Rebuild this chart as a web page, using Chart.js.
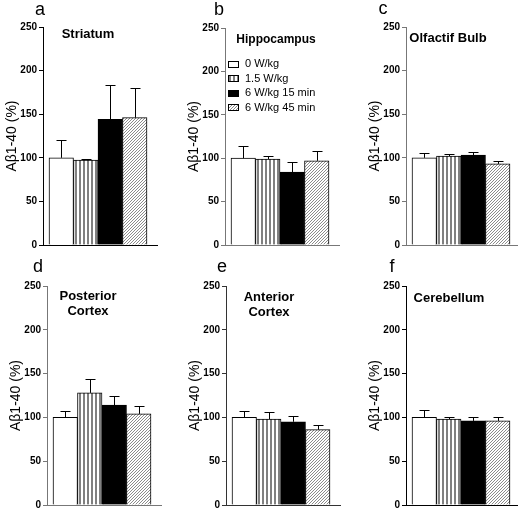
<!DOCTYPE html>
<html>
<head>
<meta charset="utf-8">
<script src="https://cdn.jsdelivr.net/npm/chart.js@4.4.1/dist/chart.umd.min.js"></script>
<style>
html,body{margin:0;padding:0;background:#fff;overflow:hidden}
#wrap{position:relative;width:518px;height:512px;overflow:hidden}
#wrap canvas{position:absolute}
</style>
</head>
<body>
<div id="wrap"></div>
<script>
// ---- data ----
const groups = ['0 W/kg', '1.5 W/kg', '6 W/kg 15 min', '6 W/kg 45 min'];
const panelLetters = ['a', 'b', 'c', 'd', 'e', 'f'];
const regionNames = [['Striatum'], ['Hippocampus'], ['Olfactif Bulb'], ['Posterior', 'Cortex'], ['Anterior', 'Cortex'], ['Cerebellum']];
const yTicks = [0, 50, 100, 150, 200, 250];
const yTitle = 'Aβ1-40 (%)';

const striatumMean = [100, 97.5, 144, 146];
const striatumSem = [20, 1.5, 40, 34];
const hippocampusMean = [100, 99, 84, 97];
const hippocampusSem = [14, 3, 12, 11];
const bulbMean = [100, 102, 103, 93];
const bulbSem = [5, 2, 4, 3];
const postCortexMean = [100, 128, 114, 104];
const postCortexSem = [7, 16, 10, 9];
const antCortexMean = [100, 98, 95, 86];
const antCortexSem = [7, 8, 7, 5];
const cerebellumMean = [100, 98, 96, 96];
const cerebellumSem = [8, 2, 5, 4];

const means = [striatumMean, hippocampusMean, bulbMean, postCortexMean, antCortexMean, cerebellumMean];
const sems = [striatumSem, hippocampusSem, bulbSem, postCortexSem, antCortexSem, cerebellumSem];

// ---- layout (page pixels) ----
const FONT = "'Liberation Sans', Arial, sans-serif";
const BAR_W = 24.5, GAP = 6, AXIS_SPACE = 44, CANVAS_W = 159, ROW_H = 256;
const panels = [
  {axisX: 43,  row: 0,   yTop: 27,  yBot: 245, color: '#000', letter: [40, 15],   title: [88, 38],  titleSize: 13},
  {axisX: 225, row: 0,   yTop: 28,  yBot: 245, color: '#777', letter: [219, 15],  title: [276, 43], titleSize: 12, legend: true},
  {axisX: 406, row: 0,   yTop: 27,  yBot: 245, color: '#777', letter: [383, 14],  title: [448, 42], titleSize: 13},
  {axisX: 47,  row: 256, yTop: 286, yBot: 507, color: '#777', letter: [38, 272],  title: [88, 300], titleSize: 13},
  {axisX: 226, row: 256, yTop: 286, yBot: 506, color: '#333', letter: [222, 272], title: [269, 301], titleSize: 13},
  {axisX: 406, row: 256, yTop: 286, yBot: 506, color: '#000', letter: [392, 272], title: [449, 302], titleSize: 13}
];

// ---- fills ----
function makePattern(w, h, draw){
  const c = document.createElement('canvas');
  c.width = w; c.height = h;
  const g = c.getContext('2d');
  g.fillStyle = '#fff'; g.fillRect(0, 0, w, h);
  draw(g);
  return g.createPattern(c, 'repeat');
}
const stripes = makePattern(4, 4, g => { g.fillStyle = '#808080'; g.fillRect(0, 0, 2, 4); });
const hatch = makePattern(3, 3, g => {
  g.fillStyle = '#8c8c8c';
  g.fillRect(2, 0, 1, 1); g.fillRect(1, 1, 1, 1); g.fillRect(0, 2, 1, 1);
});
const fills = ['#fff', stripes, '#000', hatch];

// ---- plugin: error bars, labels, legend ----
const panelPlugin = {
  id: 'panelDeco',
  afterDatasetsDraw(chart){
    const {ctx} = chart;
    const p = chart.options.plugins.panelDeco;
    const xs = chart.scales.x, ys = chart.scales.y;
    ctx.save();
    ctx.strokeStyle = '#000';
    ctx.lineWidth = 1;
    p.mean.forEach((m, i) => {
      const x = Math.round(xs.getPixelForValue(i)) + 0.5;
      const y1 = ys.getPixelForValue(m);
      const y2 = Math.round(ys.getPixelForValue(m + p.sem[i])) + 0.5;
      ctx.beginPath();
      ctx.moveTo(x, y1); ctx.lineTo(x, y2);
      ctx.moveTo(x - 5, y2); ctx.lineTo(x + 5, y2);
      ctx.stroke();
    });
    ctx.restore();
  },
  afterDraw(chart){
    const {ctx} = chart;
    const p = chart.options.plugins.panelDeco;
    const ox = p.left, oy = p.top;
    ctx.save();
    ctx.fillStyle = '#000';
    ctx.textAlign = 'center';
    ctx.textBaseline = 'alphabetic';
    ctx.font = '18px ' + FONT;
    ctx.fillText(p.letter, p.letterPos[0] - ox, p.letterPos[1] - oy);
    ctx.font = 'bold ' + p.titleSize + 'px ' + FONT;
    p.name.forEach((line, k) => ctx.fillText(line, p.titlePos[0] - ox, p.titlePos[1] - oy + k * 15));
    if (p.legend){
      ctx.textAlign = 'left';
      ctx.textBaseline = 'middle';
      ctx.font = '11px ' + FONT;
      chart.data.datasets.forEach((ds, i) => {
        const cy = 64 + i * 14.5 - oy;
        const bx = 228 - ox;
        ctx.fillStyle = ds.backgroundColor;
        ctx.fillRect(bx, Math.round(cy - 3.5), 11, 7);
        ctx.strokeStyle = '#000';
        ctx.strokeRect(bx + 0.5, Math.round(cy - 3.5) + 0.5, 10, 6);
        ctx.fillStyle = '#000';
        ctx.fillText(ds.label, 245 - ox, cy);
      });
    }
    ctx.restore();
  }
};

// ---- build charts ----
const wrap = document.getElementById('wrap');
panels.forEach((p, k) => {
  const left = p.axisX - AXIS_SPACE;
  const width = Math.min(CANVAS_W, 518 - left);
  const plotW = width - AXIS_SPACE;
  const xMin = -0.5 - GAP / BAR_W;
  const xMax = xMin + plotW / BAR_W;

  const cv = document.createElement('canvas');
  cv.width = width; cv.height = ROW_H;
  cv.style.left = left + 'px'; cv.style.top = p.row + 'px';
  cv.style.width = width + 'px'; cv.style.height = ROW_H + 'px';
  wrap.appendChild(cv);

  new Chart(cv.getContext('2d'), {
    type: 'bar',
    data: {
      datasets: groups.map((g, i) => ({
        label: g,
        data: [{x: i, y: means[k][i]}],
        backgroundColor: fills[i],
        borderColor: '#000',
        borderWidth: 1,
        grouped: false,
        categoryPercentage: 1,
        barPercentage: 1
      }))
    },
    options: {
      responsive: false,
      animation: false,
      devicePixelRatio: 1,
      layout: {padding: {top: p.yTop - p.row, bottom: p.row + ROW_H - p.yBot, left: 0, right: 0}},
      plugins: {
        legend: {display: false},
        tooltip: {enabled: false},
        panelDeco: {
          mean: means[k], sem: sems[k], left: left, top: p.row,
          letter: panelLetters[k], letterPos: p.letter,
          name: regionNames[k], titlePos: p.title, titleSize: p.titleSize, legend: !!p.legend
        }
      },
      scales: {
        x: {
          type: 'linear', min: xMin, max: xMax, offset: false,
          ticks: {display: false},
          grid: {display: false},
          border: {display: true, color: p.color, width: 1},
          afterFit: s => { s.height = 0; }
        },
        y: {
          min: 0, max: 250,
          afterBuildTicks: s => { s.ticks = yTicks.map(v => ({value: v})); },
          ticks: {color: '#000', padding: 2, font: {family: FONT, size: 10, weight: 'bold', lineHeight: 1}},
          grid: {display: true, drawOnChartArea: false, drawTicks: true, tickLength: 4, color: p.color},
          border: {display: true, color: p.color, width: 1},
          title: {display: true, text: yTitle, color: '#000', font: {family: FONT, size: 14}, padding: {top: 5, bottom: 0}},
          afterFit: s => { s.width = AXIS_SPACE; }
        }
      }
    },
    plugins: [panelPlugin]
  });
});
</script>
</body>
</html>
